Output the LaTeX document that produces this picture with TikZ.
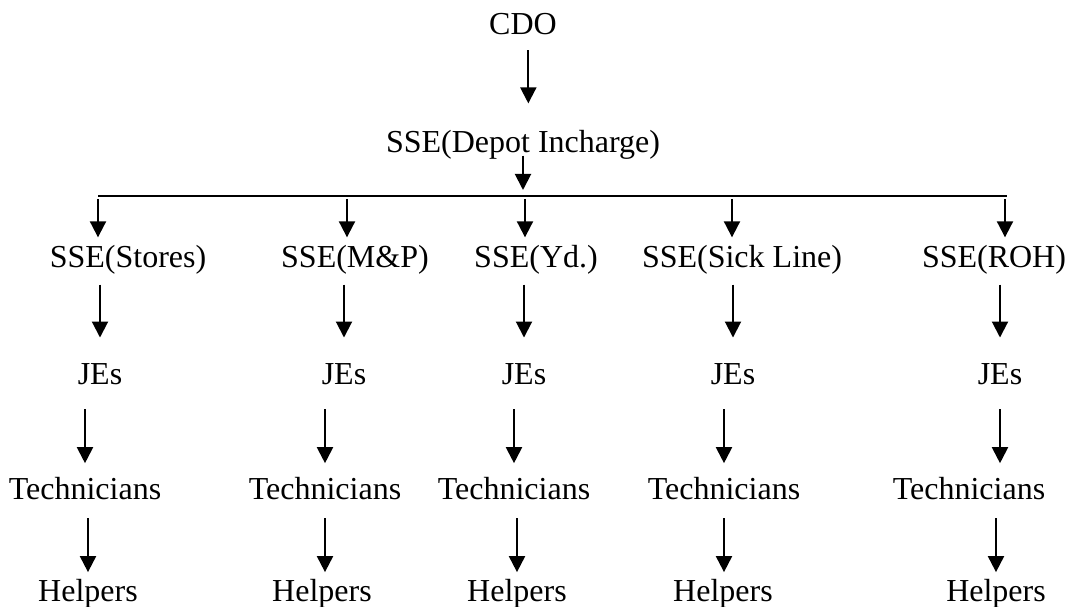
\documentclass[tikz,border=0pt]{standalone}
\usepackage{fontspec}
\setmainfont{Liberation Serif}
\usepackage{tikz}
\usetikzlibrary{arrows.meta,calc}

\begin{document}
\begin{tikzpicture}[
        x=0.375pt, y=-0.375pt,
        text_node/.style={
            inner sep=0pt,
            anchor=base,
            text height=8pt,
            text depth=2.5pt,
            font=\fontsize{12}{14}\selectfont
        },
        down_arrow/.style={
            draw=black,
            line width=0.75pt,
            -{Triangle[length=6pt,width=6pt]}
        },
        bar_line/.style={
            draw=black,
            line width=1pt
        },
        drop_arrow/.style={down_arrow, shorten <=1.1pt, shorten >=3.3pt},
        sse_arrow/.style={down_arrow, shorten <=3.5pt, shorten >=9.6pt},
        je_arrow/.style={down_arrow, shorten <=6.4pt, shorten >=5.6pt},
        tech_arrow/.style={down_arrow, shorten <=4.2pt, shorten >=3pt}
    ]
        \useasboundingbox (0,0) rectangle (1072,607);

        % Top of the chart
        \node[text_node] (cdo) at (523,35)  {CDO};
        \node[text_node] (dep) at (523,153) {SSE(Depot Incharge)};

        % Branch line
        \coordinate (bl) at (98,196);
        \coordinate (br) at (1007,196);
        \coordinate (d1) at (98,196);
        \coordinate (d2) at (347,196);
        \coordinate (d3) at (525,196);
        \coordinate (d4) at (732,196);
        \coordinate (d5) at (1005,196);

        % Sections
        \node[text_node] (s1) at (128,268) {SSE(Stores)};
        \node[text_node] (s2) at (355,268) {SSE(M\&P)};
        \node[text_node] (s3) at (536,268) {SSE(Yd.)};
        \node[text_node] (s4) at (742,268) {SSE(Sick Line)};
        \node[text_node] (s5) at (994,268) {SSE(ROH)};

        % JEs
        \node[text_node] (j1) at (100,385)  {JEs};
        \node[text_node] (j2) at (344,385)  {JEs};
        \node[text_node] (j3) at (524,385)  {JEs};
        \node[text_node] (j4) at (733,385)  {JEs};
        \node[text_node] (j5) at (1000,385) {JEs};

        % Technicians
        \node[text_node] (t1) at (85,500)  {Technicians};
        \node[text_node] (t2) at (325,500) {Technicians};
        \node[text_node] (t3) at (514,500) {Technicians};
        \node[text_node] (t4) at (724,500) {Technicians};
        \node[text_node] (t5) at (969,500) {Technicians};

        % Helpers
        \node[text_node] (h1) at (88,602)  {Helpers};
        \node[text_node] (h2) at (322,602) {Helpers};
        \node[text_node] (h3) at (517,602) {Helpers};
        \node[text_node] (h4) at (723,602) {Helpers};
        \node[text_node] (h5) at (996,602) {Helpers};

        % Top arrows
        \draw[down_arrow, shorten <=3.1pt, shorten >=10.4pt] ([xshift=2pt]cdo.south) -- ([xshift=2pt]cdo.south |- dep.north);
        \draw[down_arrow, shorten <=-1.75pt, shorten >=2.25pt] (dep.south) -- (dep.south |- bl);
        \draw[bar_line] (bl) -- (br);

        % Branch arrows
        \draw[drop_arrow] (d1) -- (d1 |- s1.north);
        \draw[drop_arrow] (d2) -- (d2 |- s2.north);
        \draw[drop_arrow] (d3) -- (d3 |- s3.north);
        \draw[drop_arrow] (d4) -- (d4 |- s4.north);
        \draw[drop_arrow] (d5) -- (d5 |- s5.north);

        % Sections to JEs
        \draw[sse_arrow] (s1.south -| j1) -- (j1.north);
        \draw[sse_arrow] (s2.south -| j2) -- (j2.north);
        \draw[sse_arrow] (s3.south -| j3) -- (j3.north);
        \draw[sse_arrow] (s4.south -| j4) -- (j4.north);
        \draw[sse_arrow] (s5.south -| j5) -- (j5.north);

        % JEs to Technicians
        \draw[je_arrow] (j1.south -| t1) -- (t1.north);
        \draw[je_arrow] (j2.south -| t2) -- (t2.north);
        \draw[je_arrow] (j3.south -| t3) -- (t3.north);
        \draw[je_arrow] (j4.south -| t4) -- (t4.north);
        \draw[je_arrow] (j5.south) -- (j5.south |- t5.north);

        % Technicians to Helpers
        \draw[tech_arrow] (t1.south -| h1) -- (h1.north);
        \draw[tech_arrow] (t2.south) -- (t2.south |- h2.north);
        \draw[tech_arrow] (t3.south -| h3) -- (h3.north);
        \draw[tech_arrow] (t4.south) -- (t4.south |- h4.north);
        \draw[tech_arrow] (t5.south -| h5) -- (h5.north);
\end{tikzpicture}
\end{document}
